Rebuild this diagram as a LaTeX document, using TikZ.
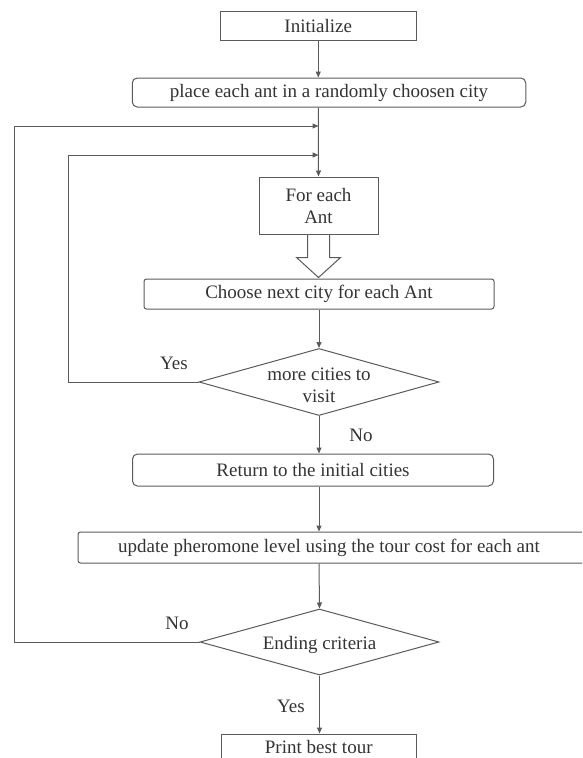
\documentclass[tikz,border=0pt]{standalone}
\usepackage{fontspec}
\setmainfont{Liberation Serif}
\usetikzlibrary{arrows.meta,shapes.geometric}
\definecolor{ln}{HTML}{5A5A5A}
\definecolor{tx}{HTML}{333333}
\begin{document}
\begin{tikzpicture}[x=1pt,y=-1pt,
  every node/.style={font=\fontsize{19}{22}\selectfont, text=tx},
  line/.style={draw=ln, line width=1pt},
  arr/.style={line, -{Triangle[length=6pt,width=5pt]}},
  box/.style={line, inner sep=0pt, align=center},
  rbox/.style={box, rounded corners=5pt},
  sbox/.style={box, rounded corners=2.5pt},
  dia/.style={line, diamond, inner sep=0pt},
  lbl/.style={inner sep=0pt}]
\useasboundingbox (0,0) rectangle (582,758);
\clip (0,0) rectangle (582,758);
\node[box, minimum width=196pt, minimum height=29pt] (init) at (318.25,25.5) {Initialize};
\node[rbox, minimum width=393.5pt, minimum height=29pt] (place) at (329,92.5) {place each ant in a randomly choosen city};
\node[box, minimum width=119pt, minimum height=57pt] (fe) at (318.5,205.5) {For each\\Ant};
\node[sbox, minimum width=350pt, minimum height=30pt] (choose) at (319,294) {Choose next city for each Ant};
\node[dia, minimum width=240pt, minimum height=67pt] (d1) at (319,382) {};
\node[align=center, inner sep=0pt] (t1) at (319,385) {more cities to\\visit};
\node[rbox, minimum width=361pt, minimum height=32pt] (ret) at (313,470) {Return to the initial cities};
\node[sbox, minimum width=508pt, minimum height=31pt] (upd) at (332,547.5) {};
\node[inner sep=0pt] (tu) at (329,547.5) {update pheromone level using the tour cost for each ant};
\node[dia, minimum width=239pt, minimum height=66pt] (d2) at (319.5,642) {};
\node[inner sep=0pt] (t2) at (319.5,645) {Ending criteria};
\node[box, minimum width=195.5pt, minimum height=30pt] (print) at (318.75,749) {};
\node[inner sep=0pt] (tp) at (318.75,746.5) {Print best tour};

\coordinate (j1) at (318.5,126);
\coordinate (j2) at (318.5,155);
\coordinate (c1) at (14,126);
\coordinate (c2) at (68,155);

\draw[arr] (init.south) -- (init.south |- place.north);
\draw[arr] (init.south |- place.south) -- (fe.north);
\draw[arr] (d2.west) -| (c1) -- (j1);
\draw[arr] (d1.west) -| (c2) -- (j2);
\draw[line] ([xshift=-11pt]fe.south) -- ++(0,23) -- ++(-11,0) -- ++(22,20) -- ++(22,-20) -- ++(-11,0) -- ++(0,-23);
\draw[arr] (choose.south) -- (d1.north);
\draw[arr] (d1.south) -- (d1.south |- ret.north);
\draw[arr] (d1.south |- ret.south) -- (d1.south |- upd.north);
\draw[arr] (d1.south |- upd.south) -- (d2.north);
\draw[arr] (d2.south) -- (d2.south |- print.north);

\node[lbl] (ly1) at (174,363) {Yes};
\node[lbl] (ln1) at (361,435) {No};
\node[lbl] (ln2) at (177,623) {No};
\node[lbl] (ly2) at (291,706) {Yes};
\end{tikzpicture}
\end{document}
